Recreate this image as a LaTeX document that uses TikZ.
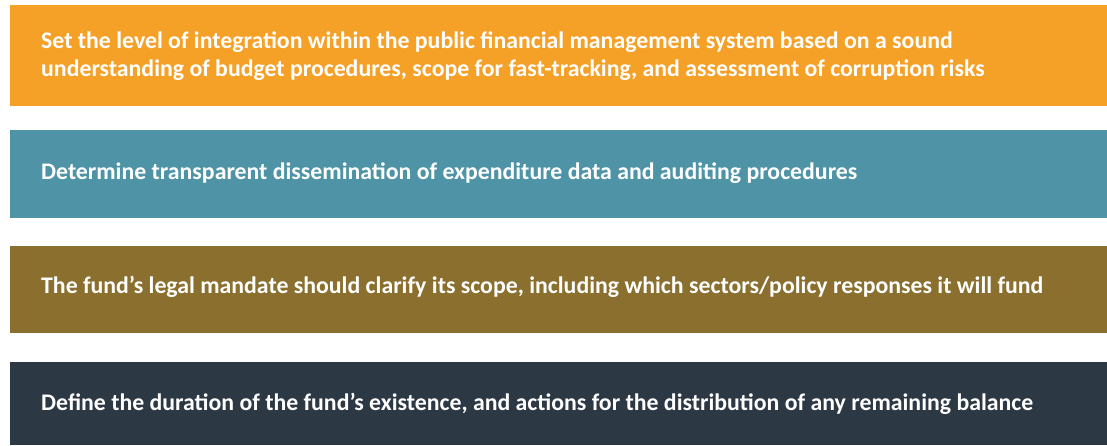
\documentclass[tikz,border=0pt]{standalone}
\usepackage{fontspec}
\setmainfont{Carlito}
\definecolor{cOrange}{HTML}{F5A127}
\definecolor{cTeal}{HTML}{4F94A6}
\definecolor{cOlive}{HTML}{8A6F2E}
\definecolor{cDark}{HTML}{2D3845}
\tikzset{
  band/.style={inner sep=0pt, outer sep=0pt},
  btext/.style={anchor=west, text=white, font=\fontsize{23.8}{28}\selectfont\bfseries, align=left, inner sep=0pt}
}
\begin{document}
\begin{tikzpicture}[x=1pt,y=-1pt]
\useasboundingbox (0,0) rectangle (1107,445);
\fill[cOrange] (10,5) rectangle (1107,106);
\fill[cTeal] (10,130) rectangle (1107,218);
\fill[cOlive] (10,246) rectangle (1107,333);
\fill[cDark] (10,362) rectangle (1107,445);
\node[btext] (t1) at (41,56) {Set the level of integration within the public financial management system based on a sound\\understanding of budget procedures, scope for fast-tracking, and assessment of corruption risks};
\node[btext] (t2) at (41,173) {Determine transparent dissemination of expenditure data and auditing procedures};
\node[btext] (t3) at (41,287) {The fund’s legal mandate should clarify its scope, including which sectors/policy responses it will fund};
\node[btext] (t4) at (41,404) {Define the duration of the fund’s existence, and actions for the distribution of any remaining balance};
\end{tikzpicture}
\end{document}
